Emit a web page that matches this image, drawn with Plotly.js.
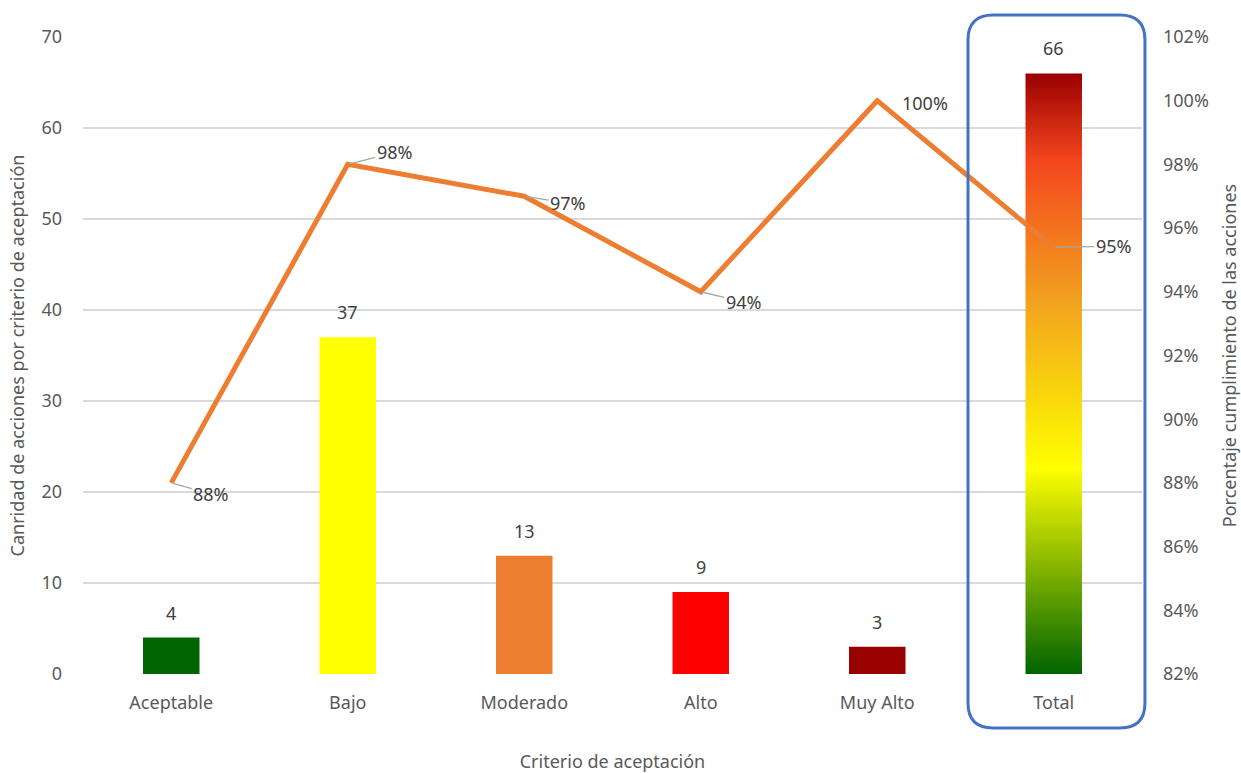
<!DOCTYPE html>
<html>
<head>
<meta charset="utf-8">
<script src="https://cdn.plot.ly/plotly-3.0.1.min.js"></script>
<style>html,body{margin:0;padding:0;background:#fff;}#chart{width:1241px;height:773px;}</style>
</head>
<body>
<div id="chart"></div>
<script>
const categories = ["Aceptable", "Bajo", "Moderado", "Alto", "Muy Alto", "Total"];
const counts = [4, 37, 13, 9, 3, 66];
const barColors = ["#006400", "#FFFF00", "#ED7D31", "#FF0000", "#990000", "rgba(0,0,0,0)"];
const compliance = [0.88, 0.98, 0.97, 0.94, 1.00, 0.954];
const complianceLabels = ["88%", "98%", "97%", "94%", "100%", "95%"];
const totalGradient = [[0, "#006400"], [0.343, "#FFFF00"], [0.62, "#F2A21F"], [0.855, "#F4461E"], [1, "#990000"]];

const xIdx = categories.map((c, i) => i);
const barWidth = 0.32;
const totalIndex = categories.length - 1;
const totalValue = counts[totalIndex];

const FONT = "Noto Sans";
const TICK = "#595959";
const LABEL = "#404040";

const barTrace = {
  type: "bar", x: xIdx, y: counts, width: barWidth,
  marker: {color: barColors, line: {width: 0}},
  hoverinfo: "skip", showlegend: false
};

const gradientTrace = {
  type: "scatter", mode: "lines",
  x: [totalIndex - barWidth/2, totalIndex + barWidth/2, totalIndex + barWidth/2, totalIndex - barWidth/2, totalIndex - barWidth/2],
  y: [0, 0, totalValue, totalValue, 0],
  fill: "toself", line: {width: 0, color: "rgba(0,0,0,0)"},
  fillgradient: {type: "vertical", colorscale: totalGradient},
  hoverinfo: "skip", showlegend: false
};

const lineTrace = {
  type: "scatter", mode: "lines", x: xIdx, y: compliance, yaxis: "y2",
  line: {color: "#ED7D31", width: 5}, showlegend: false
};

const annotations = [];
counts.forEach((v, i) => {
  annotations.push({x: i, y: v, xref: "x", yref: "y", text: String(v), showarrow: false,
    yshift: 25, font: {family: FONT, size: 18, color: LABEL}});
});
const offsets = [[40, 11], [47, -12], [44, 7], [43, 10], [48, 2], [60, -1]];
compliance.forEach((v, i) => {
  const o = offsets[i];
  const arrow = i !== 4;
  annotations.push({x: i, y: v, xref: "x", yref: "y2", text: complianceLabels[i],
    showarrow: arrow, ax: o[0], ay: o[1], arrowhead: 0, arrowwidth: 1.3, arrowcolor: "#A6A6A6",
    standoff: 2, xshift: arrow ? 0 : o[0], yshift: arrow ? 0 : -o[1],
    font: {family: FONT, size: 18, color: LABEL}});
});

// rounded highlight box around Total (paper coords)
const x0 = 0.8357, x1 = 1.0028, y0 = -0.0848, y1 = 1.0345, rx = 0.0236, ry = 0.0392;
const boxPath = `M ${x0+rx},${y1} L ${x1-rx},${y1} Q ${x1},${y1} ${x1},${y1-ry} L ${x1},${y0+ry} Q ${x1},${y0} ${x1-rx},${y0} L ${x0+rx},${y0} Q ${x0},${y0} ${x0},${y0+ry} L ${x0},${y1-ry} Q ${x0},${y1} ${x0+rx},${y1} Z`;

const layout = {
  width: 1241, height: 773,
  margin: {l: 83, r: 99, t: 37, b: 99},
  paper_bgcolor: "#fff", plot_bgcolor: "#fff",
  font: {family: FONT, size: 18, color: TICK},
  showlegend: false,
  xaxis: {
    range: [-0.5, 5.5], tickvals: xIdx, ticktext: categories, showgrid: false, zeroline: false,
    showline: false, ticks: "", ticklabelstandoff: 16, automargin: false,
    tickfont: {family: FONT, size: 18, color: TICK},
    title: {text: "Criterio de aceptación", standoff: 46, font: {family: FONT, size: 18, color: TICK}}
  },
  yaxis: {
    range: [0, 70], dtick: 10, showgrid: true, gridcolor: "#D9D9D9", gridwidth: 1.5, zeroline: false,
    showline: false, ticks: "", ticklabelstandoff: 20, automargin: false,
    tickfont: {family: FONT, size: 18, color: TICK},
    title: {text: "Canridad de acciones por criterio de aceptación", standoff: 12, font: {family: FONT, size: 18, color: TICK}}
  },
  yaxis2: {
    overlaying: "y", side: "right", range: [0.82, 1.02], dtick: 0.02, tickformat: ".0%",
    showgrid: false, zeroline: false, showline: false, ticks: "", ticklabelstandoff: 20, automargin: false,
    tickfont: {family: FONT, size: 18, color: TICK},
    title: {text: "Porcentaje cumplimiento de las acciones", standoff: 17, font: {family: FONT, size: 18, color: TICK}}
  },
  annotations: annotations,
  shapes: [{type: "path", xref: "paper", yref: "paper", path: boxPath,
    line: {color: "#4472C4", width: 3}, fillcolor: "rgba(0,0,0,0)", layer: "above"}]
};

Plotly.newPlot("chart", [barTrace, gradientTrace, lineTrace], layout, {displayModeBar: false, staticPlot: true});
</script>
</body>
</html>
